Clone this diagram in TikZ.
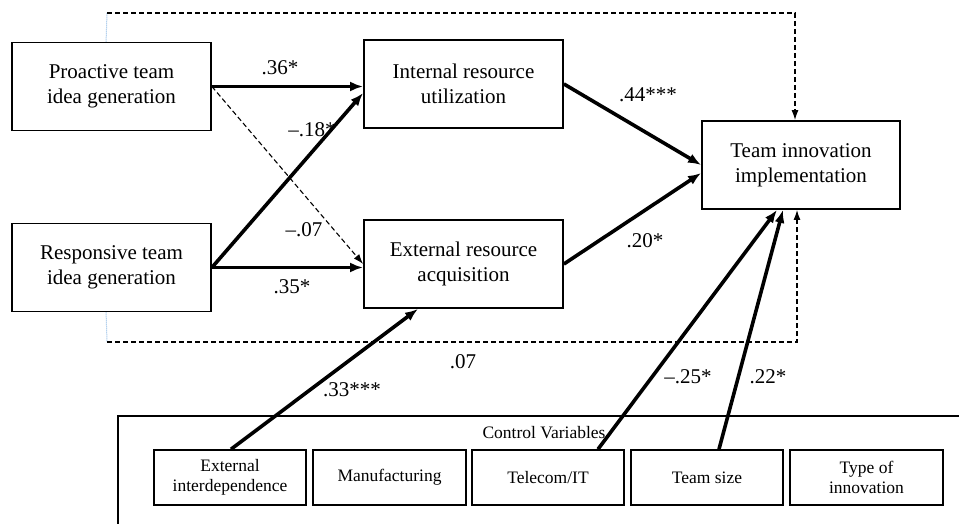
\documentclass[tikz,border=0pt]{standalone}
\usepackage{fontspec}
\setmainfont{Liberation Serif}
\usetikzlibrary{arrows.meta,calc}
\definecolor{lightblue}{RGB}{140,185,230}
\begin{document}
\begin{tikzpicture}[x=1pt,y=-1pt,
  box/.style={draw,line width=1.8pt,inner sep=0pt,align=center,
    minimum width=199pt,minimum height=88pt,font=\fontsize{21}{25}\selectfont},
  cbox/.style={draw,line width=1.6pt,inner sep=0pt,align=center,
    minimum width=152pt,minimum height=55pt,font=\fontsize{17.5}{20}\selectfont},
  lbl/.style={inner sep=0pt,font=\fontsize{21}{25}\selectfont},
  clbl/.style={inner sep=0pt,font=\fontsize{17.5}{20}\selectfont},
  thickarr/.style={line width=3.6pt,-{Latex[length=13pt,width=10pt]}},
  dasharr/.style={line width=1.3pt,dash pattern=on 5pt off 3pt,-{Latex[length=10pt,width=7pt]}},
  bluedot/.style={line width=1pt,lightblue,dash pattern=on 1pt off 1pt}
]
\clip (0,0) rectangle (959,524);
\fill[white] (0,0) rectangle (959,524);

% main boxes
\node[box] (pro) at (111.5,86.5) {Proactive team\\idea generation};
\node[box] (res) at (111.5,267.5) {Responsive team\\idea generation};
\node[box] (int) at (463.5,84) {Internal resource\\utilization};
\node[box] (ext) at (463.5,264) {External resource\\acquisition};
\node[box,minimum width=198pt] (team) at (801,165) {Team innovation\\implementation};

% control variables
\draw[line width=1.1pt] (118,560) -- (118,416) -- (990,416);
\node[clbl] (cv) at (544,433) {Control Variables};
\node[cbox] (ei) at (230,477.5) {External\\interdependence};
\node[cbox,minimum width=153pt] (man) at (389.5,477.5) {Manufacturing};
\node[cbox] (tel) at (548,477.5) {Telecom/IT};
\node[cbox] (ts) at (707,477.5) {Team size};
\node[cbox,minimum width=153pt] (toi) at (866.5,477.5) {Type of\\innovation};

% dashed direct paths
\coordinate (tl) at (107,13);
\coordinate (tr) at (795,13);
\coordinate (bl) at (107,342);
\coordinate (br) at (797,342);
\draw[bluedot] ($(pro.north west)+(95,0)$) -- (tl);
\draw[dasharr] (tl) -- (tr) -- (tr |- team.north);
\draw[bluedot] ($(res.south west)+(95,0)$) -- (bl);
\draw[dasharr] (bl) -- (br) -- (br |- team.south);

% paths
\draw[thickarr] (pro.east) -- (int.west |- pro.east);
\draw[dasharr,line width=1.1pt] (pro.east) -- (ext.west);
\draw[thickarr] (res.east) -- ($(int.west)+(0,9)$);
\draw[thickarr] (res.east) -- (ext.west |- res.east);
\draw[thickarr] (int.east) -- (team.west);
\draw[thickarr] (ext.east) -- ($(team.west)+(0,8)$);

% control paths
\draw[thickarr] ($(ei.north)+(1,0)$) -- ($(ext.south)+(-45.5,0)$);
\draw[thickarr] ($(tel.north)+(50,0)$) -- ($(team.south)+(-24,0)$);
\draw[thickarr] ($(ts.north)+(12,0)$) -- ($(team.south)+(-18,0)$);

% labels
\node[lbl] at (280,68) {.36*};
\node[lbl] at (312,130) {–.18*};
\node[lbl] at (304,230) {–.07};
\node[lbl] at (292,287) {.35*};
\node[lbl] at (648,95) {.44***};
\node[lbl] at (645,241) {.20*};
\node[lbl] at (463,362) {.07};
\node[lbl] at (352,390) {.33***};
\node[lbl] at (688,377) {–.25*};
\node[lbl] at (768,377) {.22*};
\end{tikzpicture}
\end{document}
